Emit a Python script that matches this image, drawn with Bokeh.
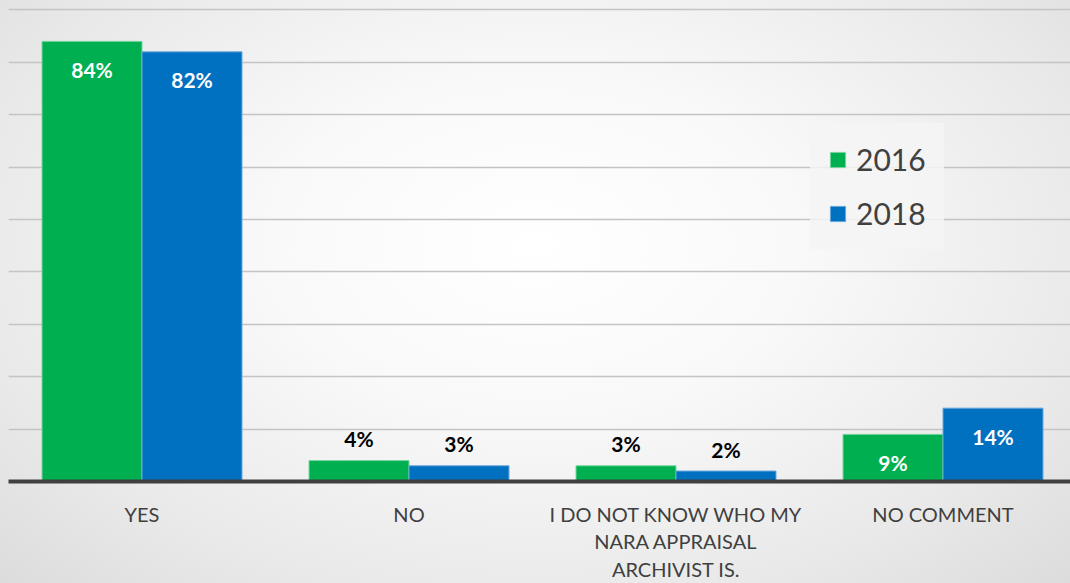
from bokeh.plotting import figure
from bokeh.models import ColumnDataSource, Range1d, FixedTicker, Legend, LegendItem
from bokeh.core.properties import value
from bokeh.embed import file_html
from bokeh.resources import INLINE

# Survey answers and the share of respondents (%) per year
categories = ["YES", "NO", "I DO NOT KNOW WHO MY\nNARA APPRAISAL\nARCHIVIST IS.", "NO COMMENT"]
values_2016 = [84, 4, 3, 9]
values_2018 = [82, 3, 2, 14]
years = ["2016", "2018"]
grid_ticks = [10, 20, 30, 40, 50, 60, 70, 80, 90]

GREEN = "#00b050"
BLUE = "#0070c0"
TEXT = "#404040"
FONT = "Lato"

bar_w = 100 / 267
centers = [i + 0.5 for i in range(len(categories))]

p = figure(width=1070, height=583, output_backend="svg", toolbar_location=None,
           x_range=Range1d(0, 1062 / 267), y_range=Range1d(0, 482.5 / 5.256),
           min_border_left=8, min_border_right=0, min_border_top=0, min_border_bottom=100)
p.background_fill_alpha = 0
p.border_fill_alpha = 0
p.outline_line_color = None
p.styles = {"background": "radial-gradient(ellipse at 50% 42%, #ffffff 0%, #f9f9f9 35%, #e9e9e9 75%, #dcdcdc 100%)"}

src16 = ColumnDataSource(dict(x=[c - bar_w / 2 for c in centers], top=values_2016))
src18 = ColumnDataSource(dict(x=[c + bar_w / 2 for c in centers], top=values_2018))
r16 = p.vbar(x="x", top="top", width=bar_w, source=src16, fill_color=GREEN, line_color="#7ad6a2", line_width=1)
r18 = p.vbar(x="x", top="top", width=bar_w, source=src18, fill_color=BLUE, line_color="#6aa8dc", line_width=1)

# value labels: inside the bar end for tall bars, above the bar for short ones
lx, ly, lt, lc, lo = [], [], [], [], []
for src, vals in ((src16, values_2016), (src18, values_2018)):
    for x, v in zip(src.data["x"], vals):
        inside = v >= 5
        lx.append(x)
        ly.append(v)
        lt.append(f"{v}%")
        lc.append("white" if inside else "black")
        lo.append(28 if inside else -22)
lab = ColumnDataSource(dict(x=lx, y=ly, t=lt, c=lc, o=lo))
p.text(x="x", y="y", text="t", source=lab, text_color="c", y_offset="o",
       text_align="center", text_baseline="middle", text_font=value(FONT),
       text_font_size="21px", text_font_style="bold")

# axes and grid
p.yaxis.visible = False
p.xgrid.visible = False
p.ygrid.ticker = FixedTicker(ticks=grid_ticks)
p.ygrid.grid_line_color = "#c4c4c4"
p.ygrid.grid_line_width = 1.5

xa = p.xaxis[0]
xa.ticker = FixedTicker(ticks=centers)
xa.major_label_overrides = {c: lbl for c, lbl in zip(centers, categories)}
xa.axis_line_color = TEXT
xa.axis_line_width = 4
xa.major_tick_line_color = None
xa.minor_tick_line_color = None
xa.major_label_standoff = 14
xa.major_label_text_font = FONT
xa.major_label_text_font_size = "20px"
xa.major_label_text_color = TEXT
xa.major_label_text_line_height = 1.15

legend = Legend(items=[LegendItem(label=years[0], renderers=[r16]),
                       LegendItem(label=years[1], renderers=[r18])],
                location=(802, 232))
legend.background_fill_color = "#f4f4f4"
legend.background_fill_alpha = 0.85
legend.border_line_alpha = 0
legend.label_text_font = FONT
legend.label_text_font_size = "30px"
legend.label_text_color = TEXT
legend.glyph_width = 19
legend.glyph_height = 19
legend.label_standoff = 9
legend.spacing = 18
legend.padding = 18
legend.margin = 0
p.add_layout(legend, "center")

open("out.html", "w").write(file_html(p, INLINE))
